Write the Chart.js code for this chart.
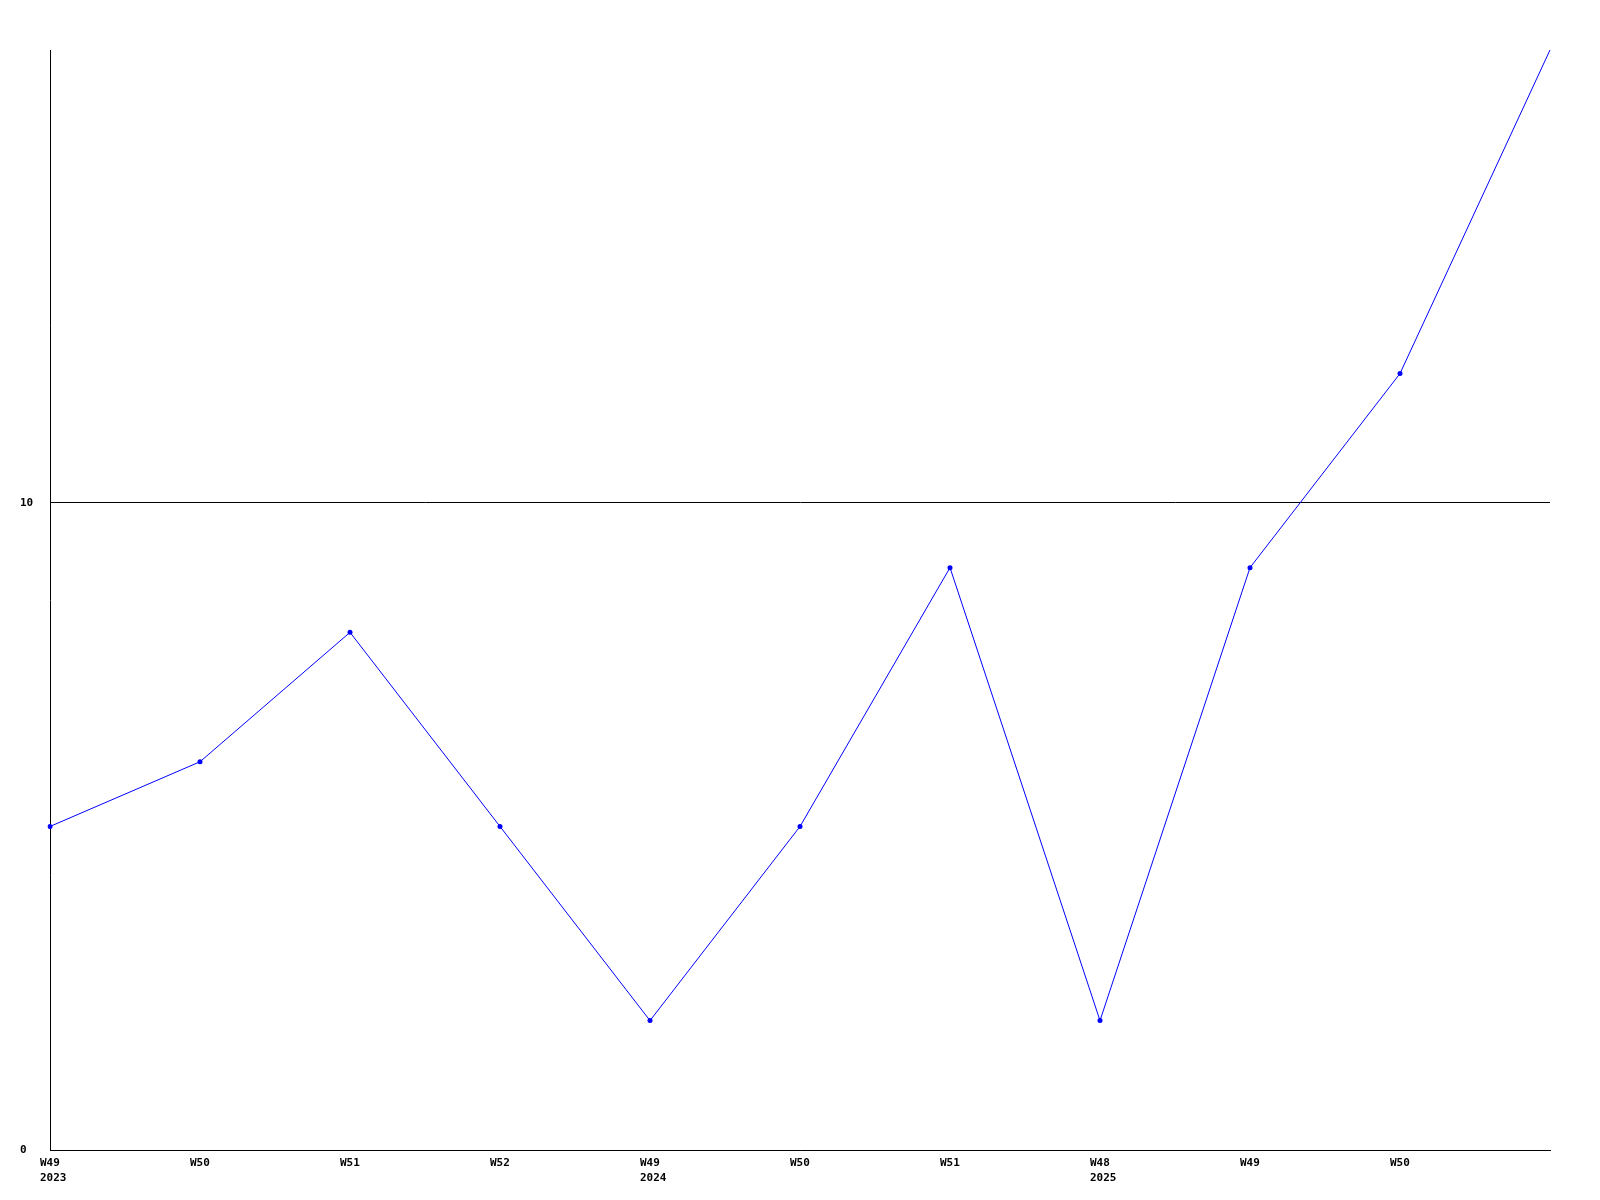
<!DOCTYPE html>
<html>
<head>
<meta charset="utf-8">
<script src="https://cdn.jsdelivr.net/npm/chart.js@4/dist/chart.umd.min.js"></script>
<style>
  html, body { margin: 0; padding: 0; background: #fff; }
</style>
</head>
<body>
<canvas id="chart" width="1600" height="1200"></canvas>
<script>
// weekly values, one per point
const weeks = ['W49', 'W50', 'W51', 'W52', 'W49', 'W50', 'W51', 'W48', 'W49', 'W50', 'W51'];
const years = ['2023', '', '', '', '2024', '', '', '2025', '', '', ''];
const values = [5, 6, 8, 5, 2, 5, 9, 2, 9, 12, 17];
const yTicks = [0, 10];

const labels = weeks.map((w, i) => years[i] ? [w, years[i]] : w);
const font = { family: '"DejaVu Sans Mono", monospace', size: 11, weight: 'bold', lineHeight: 1.36 };

const ctx = document.getElementById('chart').getContext('2d');
new Chart(ctx, {
    type: 'line',
    data: {
        labels: labels,
        datasets: [{
            data: values,
            borderColor: '#0000ff',
            backgroundColor: '#0000ff',
            borderWidth: 1,
            tension: 0,
            pointRadius: (c) => c.dataIndex === values.length - 1 ? 0 : 2.5,
            pointBorderWidth: 0,
            pointHoverRadius: 2.5,
        }],
    },
    options: {
        responsive: false,
        animation: false,
        layout: { padding: { left: 20, right: 50, top: 50, bottom: 0 } },
        plugins: { legend: { display: false }, tooltip: { enabled: false } },
        scales: {
            x: {
                grid: { display: false, drawTicks: false },
                border: { color: '#000', width: 1 },
                ticks: {
                    color: '#000',
                    font: font,
                    autoSkip: false,
                    maxRotation: 0,
                    align: 'start',
                    labelOffset: -10,
                    padding: 6,
                    // last point has no label in the original
                    callback: (v, i) => i === weeks.length - 1 ? '' : labels[i],
                },
                afterFit: (s) => { s.height = 50; },
            },
            y: {
                min: 0,
                max: 17,
                grid: { color: '#000', drawTicks: false, lineWidth: 1 },
                border: { color: '#000', width: 1 },
                afterBuildTicks: (s) => { s.ticks = yTicks.map(v => ({ value: v })); },
                ticks: {
                    color: '#000',
                    font: { family: font.family, size: 11, weight: 'bold' },
                    crossAlign: 'far',
                    padding: 0,
                },
                afterFit: (s) => { s.width = 30; },
            },
        },
    },
});
</script>
</body>
</html>
